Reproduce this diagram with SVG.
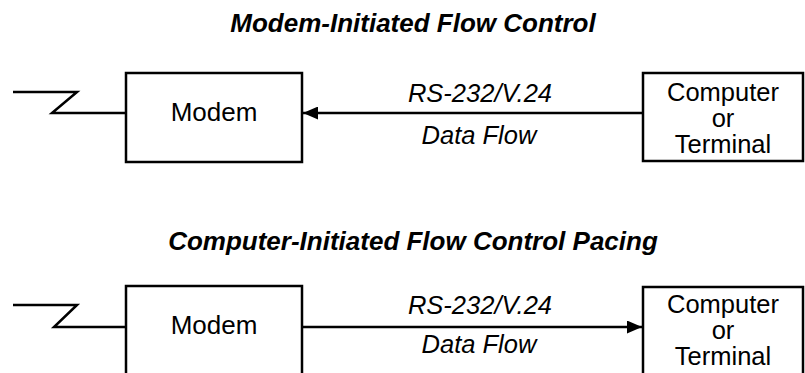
<svg xmlns="http://www.w3.org/2000/svg" width="805" height="373" viewBox="0 0 805 373">
<style>
.box{fill:#fff;stroke:#000;stroke-width:2.5}
.ln{fill:none;stroke:#000;stroke-width:2.5}
.t{font-family:"Liberation Sans",Arial,sans-serif;font-size:25.5px;fill:#000;text-anchor:middle}
.it{font-style:italic}
.title{font-family:"Liberation Sans",Arial,sans-serif;font-size:26px;font-weight:bold;font-style:italic;fill:#000;text-anchor:middle}
</style>
<defs>
<marker id="ah" markerWidth="15" markerHeight="13" refX="15" refY="6.5" orient="auto" markerUnits="userSpaceOnUse">
<path d="M0,0 L15,6.5 L0,13 Z" fill="#000"/>
</marker>
</defs>
<rect width="805" height="373" fill="#fff"/>
<text class="title" x="413" y="32">Modem-Initiated Flow Control</text>
<text class="title" x="413" y="250">Computer-Initiated Flow Control Pacing</text>
<g id="connectors">
<polyline class="ln" points="13,92 77,92 52,113 126,113"/>
<line class="ln" x1="643" y1="113" x2="303" y2="113" marker-end="url(#ah)"/>
<polyline class="ln" points="13,305 77,305 54,327 126,327"/>
<line class="ln" x1="302" y1="327" x2="642" y2="327" marker-end="url(#ah)"/>
</g>
<g id="label-top">
<text class="t it" x="480" y="102">RS-232/V.24</text>
<text class="t it" x="479" y="144">Data Flow</text>
</g>
<g id="label-bottom">
<text class="t it" x="480" y="314">RS-232/V.24</text>
<text class="t it" x="479" y="353">Data Flow</text>
</g>
<g id="modem-top">
<rect class="box" x="126" y="73" width="176" height="89"/>
<text class="t" x="214" y="121" style="font-size:26px">Modem</text>
</g>
<g id="computer-top">
<rect class="box" x="643" y="73" width="160" height="88"/>
<text class="t" x="723" y="101">Computer</text>
<text class="t" x="723" y="127">or</text>
<text class="t" x="723" y="153">Terminal</text>
</g>
<g id="modem-bottom">
<rect class="box" x="126" y="286" width="176" height="89"/>
<text class="t" x="214" y="334" style="font-size:26px">Modem</text>
</g>
<g id="computer-bottom">
<rect class="box" x="643" y="287" width="160" height="88"/>
<text class="t" x="723" y="313">Computer</text>
<text class="t" x="723" y="339">or</text>
<text class="t" x="723" y="365">Terminal</text>
</g>
</svg>
